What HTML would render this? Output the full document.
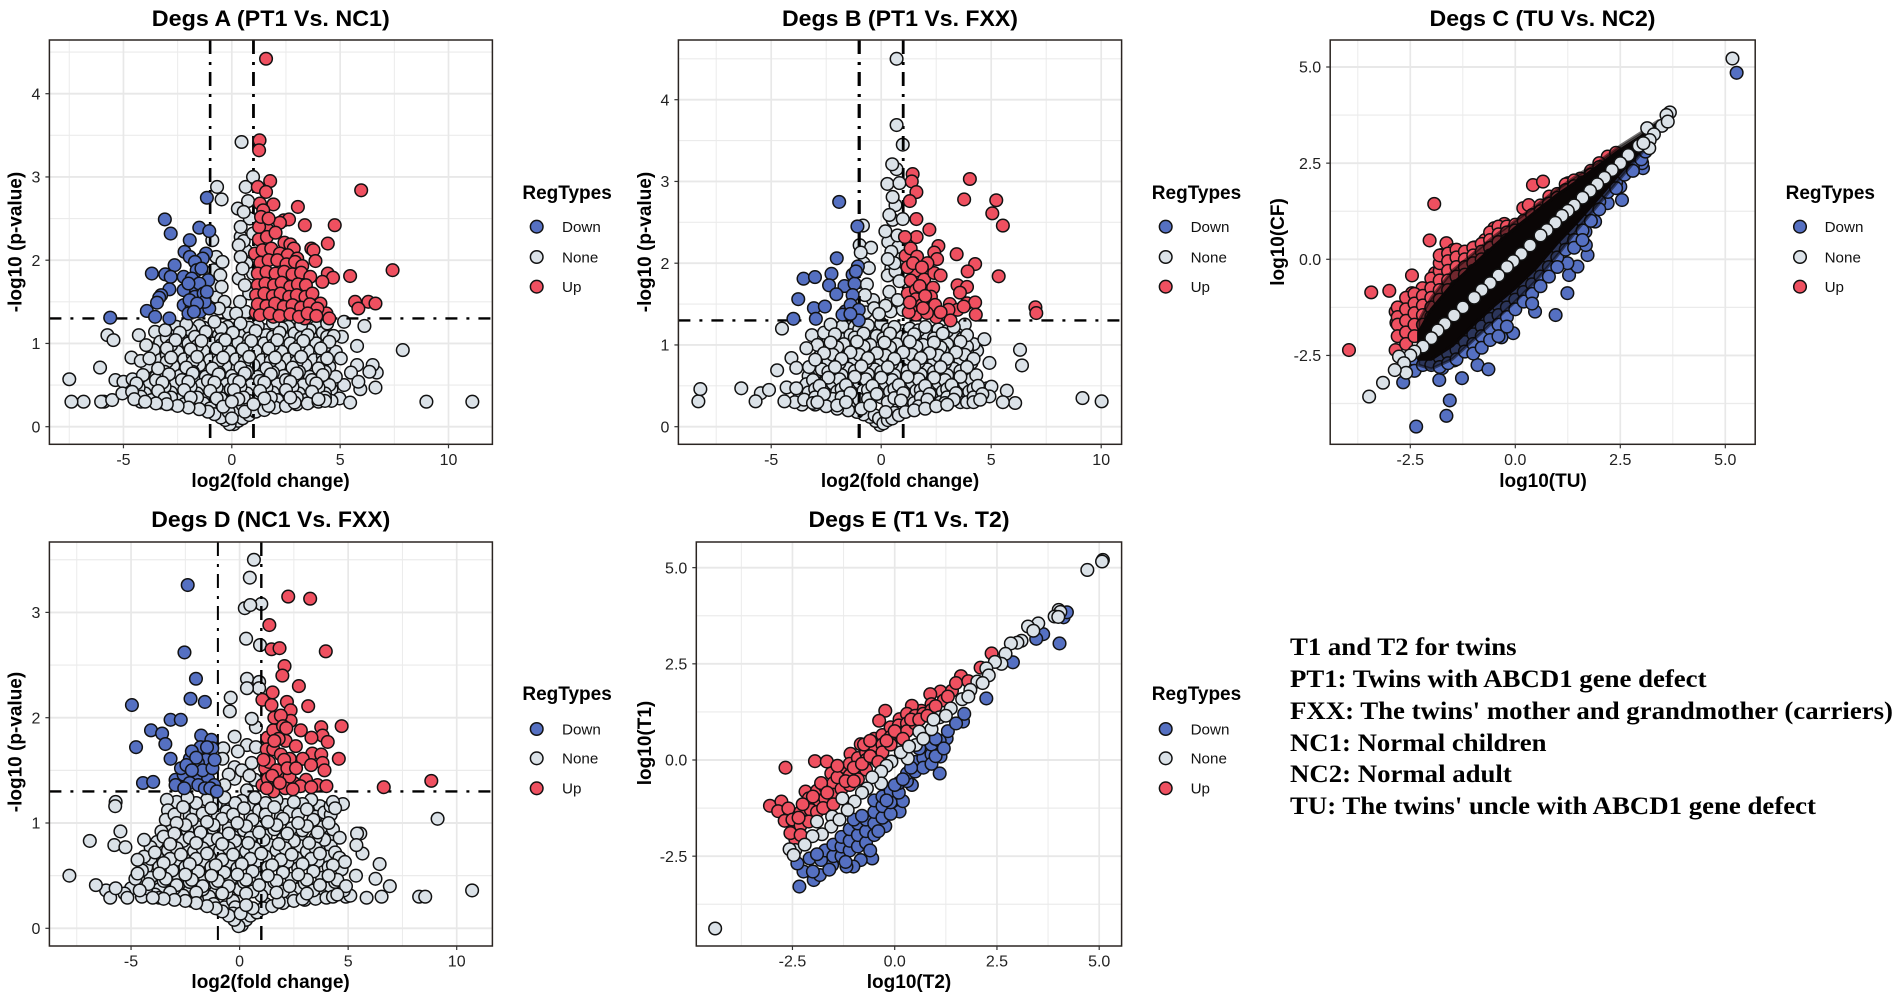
<!DOCTYPE html>
<html lang="en">
<head>
<meta charset="utf-8">
<title>Degs volcano and scatter panels</title>
<style>
html,body{margin:0;padding:0;background:#fff;width:1902px;height:1002px;overflow:hidden}
svg{display:block;filter:blur(0.35px)}
text{font-family:"Liberation Sans",sans-serif}
.ttl{font-size:22.5px;font-weight:bold;fill:#000;text-anchor:middle}
.axl{font-size:19px;font-weight:bold;fill:#000;text-anchor:middle}
.lgt{font-size:19px;font-weight:bold;fill:#000}
.lgl{font-size:15.2px;fill:#111}
.note{font-family:"Liberation Serif",serif;font-size:25px;font-weight:bold;fill:#000}
</style>
</head>
<body>
<svg id="chart" xmlns="http://www.w3.org/2000/svg" width="1902" height="1002" viewBox="0 0 1902 1002">
<rect x="0" y="0" width="1902" height="1002" fill="#fff"/>
<g id="panels"></g>
<text class="ttl" x="270.8" y="26" textLength="238" lengthAdjust="spacingAndGlyphs">Degs A (PT1 Vs. NC1)</text>
<text class="ttl" x="900" y="26" textLength="236" lengthAdjust="spacingAndGlyphs">Degs B (PT1 Vs. FXX)</text>
<text class="ttl" x="1542.5" y="26" textLength="226" lengthAdjust="spacingAndGlyphs">Degs C (TU Vs. NC2)</text>
<text class="ttl" x="270.8" y="527" textLength="239" lengthAdjust="spacingAndGlyphs">Degs D (NC1 Vs. FXX)</text>
<text class="ttl" x="909" y="527" textLength="201" lengthAdjust="spacingAndGlyphs">Degs E (T1 Vs. T2)</text>
<text class="axl" x="270.6" y="487">log2(fold change)</text>
<text class="axl" x="900" y="487">log2(fold change)</text>
<text class="axl" x="1543" y="487">log10(TU)</text>
<text class="axl" x="270.6" y="988">log2(fold change)</text>
<text class="axl" x="909" y="988">log10(T2)</text>
<text class="axl" transform="translate(21.5,242) rotate(-90)">-log10 (p-value)</text>
<text class="axl" transform="translate(651,242) rotate(-90)">-log10 (p-value)</text>
<text class="axl" transform="translate(1284,242) rotate(-90)">log10(CF)</text>
<text class="axl" transform="translate(21.5,742) rotate(-90)">-log10 (p-value)</text>
<text class="axl" transform="translate(651,743) rotate(-90)">log10(T1)</text>
<g>
<text class="note" x="1290" y="655" textLength="226.6" lengthAdjust="spacingAndGlyphs">T1 and T2 for twins</text>
<text class="note" x="1290" y="687" textLength="416.5" lengthAdjust="spacingAndGlyphs">PT1: Twins with ABCD1 gene defect</text>
<text class="note" x="1290" y="719" textLength="603" lengthAdjust="spacingAndGlyphs">FXX: The twins' mother and grandmother (carriers)</text>
<text class="note" x="1290" y="751" textLength="256.5" lengthAdjust="spacingAndGlyphs">NC1: Normal children</text>
<text class="note" x="1290" y="782" textLength="221.8" lengthAdjust="spacingAndGlyphs">NC2: Normal adult</text>
<text class="note" x="1290" y="814" textLength="526" lengthAdjust="spacingAndGlyphs">TU: The twins' uncle with ABCD1 gene defect</text>
</g>
</svg>
<script>
const legendLabels = ['Down','None','Up'];
const volcanoXTicks = [-5,0,5,10];
const volcanoXTickLabels = ['-5','0','5','10'];
const volcanoXMinor = [-7.5,-2.5,2.5,7.5];
const abYTicks = [0,1,2,3,4];
const abYTickLabels = ['0','1','2','3','4'];
const abYMinor = [0.5,1.5,2.5,3.5,4.5];
const dYTicks = [0,1,2,3];
const dYTickLabels = ['0','1','2','3'];
const dYMinor = [0.5,1.5,2.5,3.5];
const logTicks = [-2.5,0,2.5,5];
const logTickLabels = ['-2.5','0.0','2.5','5.0'];
const logMinor = [-3.75,-1.25,1.25,3.75];
const pThreshold = 1.3;
const fcThresholds = [-1,1];

/* series values: flat x,y pairs */
const aDown = [-3.09,2.49,-2.82,2.32,-1.94,2.24,-1.5,2.39,-1.04,2.35,-1.15,2.75,-2.18,2.1,-1.94,2.04,-2.64,1.94,-3.69,1.84,-3.07,1.83,-2.82,1.8,-2.88,1.65,-1.19,2.08,-1.34,2.02,-1.7,1.98,-1.62,1.88,-1.09,1.76,-2.22,1.8,-1.85,1.78,-2.22,1.64,-1.66,1.66,-1.7,1.56,-3.26,1.58,-3.35,1.55,-3.45,1.49,-3.92,1.39,-3.54,1.32,-2.22,1.46,-1.85,1.44,-1.47,1.38,-1.04,1.42,-5.61,1.31,-2.88,1.3,-1.4,1.9,-1.5,1.72,-1.3,1.6,-2.0,1.72,-1.95,1.52,-1.25,1.5,-1.6,1.48,-2.0,1.36,-1.15,1.62,-1.75,1.38];
const aUp = [1.58,4.42,1.28,3.44,1.26,3.32,1.77,2.95,1.2,2.88,1.58,2.82,5.97,2.84,1.92,2.67,1.3,2.68,1.45,2.6,3.05,2.64,2.4,2.48,2.64,2.49,2.22,2.45,3.37,2.42,4.75,2.42,1.64,2.37,1.26,2.4,2.43,2.21,2.7,2.19,4.43,2.2,3.67,2.14,3.77,2.12,2.86,2.14,1.07,2.08,3.86,1.99,7.42,1.88,5.46,1.81,4.43,1.84,4.67,1.79,4.18,1.74,5.69,1.5,6.3,1.5,6.63,1.48,5.84,1.42,4.09,1.48,4.37,1.36,4.5,1.3,3.37,1.3,1.92,1.32,1.11,1.37,2.49,1.42,1.35,2.52,1.7,2.5,1.25,2.25,1.62,2.28,2.02,2.33,1.42,2.12,1.82,2.14,2.22,2.08,2.58,2.06,3.02,2.02,1.32,1.97,1.7,2.0,2.1,2.0,2.52,1.95,2.92,1.98,3.25,1.93,1.2,1.84,1.6,1.86,2.02,1.84,2.42,1.86,2.8,1.83,3.2,1.85,3.62,1.8,1.2,1.7,1.55,1.72,1.95,1.7,2.3,1.73,2.7,1.68,3.05,1.71,3.42,1.7,1.12,1.58,1.5,1.6,1.9,1.57,2.25,1.6,2.65,1.56,3,1.58,3.4,1.56,3.72,1.6,1.2,1.47,1.6,1.45,2.0,1.48,2.4,1.44,2.8,1.46,3.2,1.43,3.6,1.47,3.95,1.42,1.3,1.34,1.75,1.36,2.2,1.33,2.7,1.35,3.1,1.32,3.5,1.36,3.9,1.33];
const aNone = [0.45,3.42,0.98,3.0,0.64,2.88,-0.68,2.88,-0.47,2.73,0.75,2.71,0.28,2.62,0.55,2.58,0.83,2.5,0.41,2.4,-0.9,2.24,0.55,2.23,0.41,2.28,0.32,2.18,0.64,2.12,0.98,2.32,-0.72,2.04,-0.43,1.98,0.68,1.96,0.41,2.04,-0.83,1.88,-0.53,1.82,0.32,1.78,0.6,1.7,0.98,1.84,-0.47,1.68,-0.72,1.56,0.38,1.5,-0.34,1.5,-0.15,1.36,0.8,1.6,0.5,1.9,-0.8,1.7,-0.6,1.42,0.65,1.38,0.2,1.36,
-5.74,1.1,-5.46,1.04,-4.29,1.1,-3.95,0.98,-3.54,1.14,-3.07,1.16,-2.56,1.2,-6.08,0.71,-4.63,0.83,-4.2,0.79,-7.5,0.57,-7.4,0.3,-6.84,0.3,-6.03,0.3,-5.9,0.3,-5.52,0.32,-5.37,0.56,-5.05,0.4,-5.0,0.54,-4.58,0.57,8.98,0.3,11.1,0.3,7.89,0.92,6.12,1.21,5.18,1.26,5.78,0.97,5.08,1.08,5.03,0.82,5.78,0.74,6.5,0.74,6.69,0.65,6.35,0.66,5.5,0.65,5.84,0.54,5.93,0.45,6.63,0.47,5.18,0.5,5.46,0.29,4.97,0.34,
-2.1,1.23,-1.5,1.21,-0.8,1.26,-0.2,1.2,0.4,1.24,1.2,1.21,1.9,1.25,2.6,1.2,3.2,1.22,3.9,1.2,4.4,1.24,-2.9,1.1,-2.4,1.13,-1.8,1.11,-1.2,1.14,-0.6,1.1,0.05,1.13,0.6,1.11,1.1,1.15,1.6,1.1,2.2,1.13,2.9,1.12,3.5,1.1,4.2,1.13,4.7,1.09,-3.3,1.02,-2.6,1.04,-2,1,-1.4,1.03,-0.9,1,-0.3,1.04,0.3,1.01,0.9,1.03,1.5,1,2.1,1.04,2.7,1,3.3,1.03,3.9,1,4.5,1.02,-3.6,0.92,-3,0.94,-2.5,0.9,-1.9,0.93,-1.3,0.91,-0.7,0.94,-0.1,0.9,0.5,0.93,1.1,0.91,1.7,0.94,2.3,0.9,2.9,0.93,3.5,0.91,4.1,0.94,4.8,0.9,-3.8,0.82,-3.3,0.8,-2.8,0.83,-2.2,0.81,-1.6,0.84,-1,0.8,-0.4,0.83,0.2,0.81,0.8,0.84,1.4,0.8,2,0.83,2.6,0.81,3.2,0.84,3.8,0.8,4.4,0.82,-3.9,0.72,-3.4,0.7,-2.7,0.73,-2.1,0.71,-1.5,0.74,-0.9,0.7,-0.3,0.73,0.4,0.71,1,0.74,1.6,0.7,2.2,0.73,2.8,0.71,3.4,0.74,4,0.7,4.5,0.72,-4.1,0.62,-3.5,0.6,-2.9,0.63,-2.4,0.61,-1.8,0.64,-1.2,0.6,-0.6,0.63,0,0.61,0.6,0.64,1.2,0.6,1.8,0.63,2.4,0.61,3,0.64,3.6,0.6,4.2,0.62,4.8,0.6,-4.4,0.52,-3.8,0.5,-3.2,0.53,-2.6,0.51,-2,0.54,-1.4,0.5,-0.8,0.53,-0.25,0.51,0.35,0.54,0.9,0.5,1.5,0.53,2.1,0.51,2.7,0.54,3.3,0.5,3.9,0.52,4.5,0.5,-4.6,0.42,-4,0.4,-3.4,0.43,-2.8,0.41,-2.2,0.44,-1.6,0.4,-1,0.43,-0.45,0.41,0.1,0.44,0.7,0.4,1.3,0.43,1.9,0.41,2.5,0.44,3.1,0.4,3.7,0.42,4.3,0.4,-4.5,0.33,-3.7,0.32,-3.1,0.34,-2.5,0.32,-1.9,0.35,-1.3,0.32,-0.7,0.34,-0.2,0.3,0.3,0.33,0.8,0.31,1.5,0.34,2.1,0.32,2.7,0.35,3.4,0.32,4,0.33,4.6,0.31,
-0.1,0.03,0.1,0.03,-0.3,0.08,0.3,0.07,-0.5,0.11,0.5,0.1,-0.8,0.15,0.8,0.14,-1.1,0.18,1.1,0.18,-1.5,0.21,1.5,0.2,-2,0.23,2,0.23,-2.5,0.25,2.5,0.25,-3,0.27,3,0.27,-3.5,0.28,3.5,0.28,-4,0.3,4,0.3,-0.15,0.18,0.2,0.2,-0.4,0.24,0.5,0.26,0,0.1,-0.85,0.26,1,0.27,-1.3,0.28,0,0.3,-0.05,0.45];
const aNoneDense = [-2.5,1.17,-1.9,1.16,-1.3,1.19,-0.5,1.18,0.1,1.17,0.8,1.19,1.5,1.16,2.3,1.18,3,1.17,3.6,1.16,4.3,1.15,-3,1.07,-2.3,1.06,-1.7,1.08,-1.1,1.06,-0.5,1.05,0.2,1.08,0.8,1.06,1.3,1.05,1.9,1.08,2.5,1.06,3.2,1.07,3.8,1.05,4.4,1.08,-3.4,0.97,-2.8,0.98,-2.2,0.96,-1.6,0.97,-1.1,0.95,-0.5,0.98,0.1,0.96,0.7,0.97,1.3,0.95,1.9,0.98,2.5,0.96,3.1,0.97,3.7,0.95,4.3,0.97,-3.6,0.87,-3,0.86,-2.4,0.88,-1.8,0.86,-1.2,0.88,-0.6,0.85,0,0.87,0.6,0.86,1.2,0.88,1.8,0.85,2.4,0.87,3,0.86,3.6,0.88,4.2,0.85,-3.6,0.77,-3,0.78,-2.4,0.76,-1.8,0.78,-1.2,0.76,-0.6,0.79,0,0.76,0.6,0.78,1.2,0.76,1.8,0.79,2.4,0.76,3,0.78,3.6,0.76,4.2,0.78,-3.7,0.67,-3.1,0.66,-2.4,0.68,-1.8,0.66,-1.2,0.68,-0.6,0.65,0.1,0.67,0.7,0.66,1.3,0.68,1.9,0.65,2.5,0.67,3.1,0.66,3.7,0.68,4.3,0.66,-4.1,0.57,-3.5,0.56,-2.9,0.58,-2.3,0.56,-1.7,0.58,-1.1,0.55,-0.5,0.57,0.1,0.56,0.7,0.58,1.3,0.55,1.9,0.57,2.5,0.56,3.1,0.58,3.7,0.56,4.3,0.57,-4.3,0.47,-3.7,0.46,-3.1,0.48,-2.5,0.46,-1.9,0.48,-1.3,0.45,-0.7,0.47,-0.15,0.46,0.4,0.48,1,0.45,1.6,0.47,2.2,0.46,2.8,0.48,3.4,0.46,4,0.47,4.6,0.45,-4.2,0.36,-3.4,0.37,-2.8,0.35,-2.2,0.38,-1.6,0.35,-1,0.37,-0.5,0.34,0.05,0.37,0.55,0.35,1.2,0.38,1.8,0.35,2.4,0.37,3,0.35,3.7,0.37,4.3,0.35,-4.2,0.3,-3.3,0.29,-2.8,0.28,-2.2,0.27,-1.6,0.25,-1,0.22,-0.6,0.18,-0.2,0.12,0.2,0.12,0.6,0.18,1,0.22,1.7,0.25,2.3,0.27,2.9,0.29,3.6,0.3,4.3,0.31];

const bDown = [-1.91,2.75,-1.08,2.45,-2.02,2.06,-1.06,1.96,-3.53,1.81,-3.01,1.83,-2.26,1.87,-2.37,1.73,-1.67,1.72,-2.04,1.62,-1.3,1.86,-1.21,1.75,-3.77,1.56,-3.06,1.45,-2.56,1.47,-2.97,1.32,-3.99,1.32,-1.63,1.41,-1.3,1.61,-1.39,1.49,-1.02,1.43,-1.02,1.3,-1.76,1.37,-1.15,1.9,-1.4,1.38];
const bUp = [1.43,3.09,1.39,3.0,1.6,2.87,1.3,2.76,4.03,3.03,3.77,2.78,5.23,2.77,5.05,2.61,5.53,2.46,1.6,2.54,2.19,2.41,1.61,2.32,1.08,2.32,2.6,2.21,2.41,2.13,3.43,2.11,2.54,2.05,1.11,2.09,1.34,2.18,4.27,1.99,3.93,1.9,5.34,1.84,1.63,2.08,1.58,1.91,2.23,1.9,1.95,1.8,2.41,1.88,3.47,1.73,3.9,1.71,3.58,1.64,2.36,1.7,1.34,1.79,1.21,1.63,1.58,1.67,2.26,1.59,1.58,1.56,2.45,1.49,3.12,1.5,3.9,1.51,4.27,1.52,3.47,1.43,4.3,1.37,3.06,1.43,2.5,1.34,1.58,1.37,2.08,1.39,3.15,1.3,7.01,1.46,7.05,1.39,1.39,1.47,1.86,1.49,1.2,1.95,1.45,2.0,1.75,1.72,2.0,1.6,1.9,1.45,1.25,1.4,2.7,1.4,1.3,1.52,2.1,2.0,2.7,1.85,1.85,1.95,3.75,1.47];
const bNone = [0.7,4.5,0.7,3.69,0.98,3.45,0.5,3.21,0.7,3.15,0.83,2.98,0.28,2.97,0.52,2.81,0.65,2.71,0.37,2.59,0.52,2.53,0.98,2.54,-0.83,2.46,0.19,2.39,0.32,2.26,0.74,2.34,-0.98,2.22,-0.93,2.13,-0.46,2.19,0.46,2.14,-0.8,2,-0.56,1.94,0.46,1.94,0.83,1.78,-0.65,1.74,0.37,1.65,-0.37,1.55,-0.32,1.45,0.43,1.41,0.98,1.43,-0.74,1.61,0.6,2.0,0.3,1.85,0.75,1.55,0.45,1.55,0.2,1.48,0.78,2.2,0.3,2.05,-0.7,1.4,-0.1,1.38,0.65,1.9,
-4.51,1.2,-3.15,1.12,-2.6,1.15,-1.76,1.23,-3.4,0.96,-4.08,0.84,-4.73,0.69,-3.86,0.72,-3.28,0.73,-6.36,0.47,-8.22,0.46,-8.31,0.31,-5.71,0.31,-5.47,0.41,-5.1,0.45,-4.3,0.48,-4.4,0.31,-3.93,0.3,-3.86,0.47,9.15,0.35,10.02,0.31,6.31,0.94,6.4,0.75,4.92,0.78,4.69,1.07,4.36,0.93,4.32,0.63,6.09,0.29,5.53,0.3,5.71,0.44,5.01,0.49,4.82,0.47,4.92,0.37,4.03,0.31,
-2.3,1.25,-1.2,1.22,-0.6,1.24,0,1.26,0.6,1.22,1.3,1.2,2,1.22,2.6,1.19,3.3,1.22,3.8,1.25,-2.1,1.13,-1.4,1.12,-0.8,1.14,-0.2,1.11,0.4,1.14,0.95,1.1,1.5,1.13,2.1,1.11,2.8,1.14,3.4,1.1,3.9,1.12,-2.9,1,-2.3,1.03,-1.7,1.01,-1.1,1.04,-0.5,1,0.15,1.03,0.7,1.01,1.3,1.04,1.9,1,2.4,1.03,3,1.01,3.6,1.04,4.2,1.01,-2.6,0.9,-2,0.93,-1.4,0.91,-0.8,0.94,-0.2,0.9,0.4,0.93,1,0.91,1.6,0.94,2.2,0.9,2.8,0.93,3.4,0.91,3.9,0.93,-3,0.82,-2.4,0.8,-1.8,0.83,-1.2,0.81,-0.6,0.84,0,0.8,0.6,0.83,1.2,0.81,1.8,0.84,2.4,0.8,3,0.83,3.6,0.81,4.2,0.83,-2.7,0.7,-2.1,0.73,-1.5,0.71,-0.9,0.74,-0.3,0.7,0.3,0.73,0.9,0.71,1.5,0.74,2.1,0.7,2.7,0.73,3.3,0.71,3.9,0.73,-3.3,0.62,-2.4,0.6,-1.8,0.63,-1.2,0.61,-0.6,0.64,0,0.6,0.6,0.63,1.2,0.61,1.8,0.64,2.4,0.6,3,0.63,3.6,0.61,-3.4,0.52,-2.8,0.5,-2.2,0.53,-1.6,0.51,-1,0.54,-0.4,0.5,0.2,0.53,0.8,0.51,1.4,0.54,2,0.5,2.6,0.53,3.2,0.51,3.8,0.53,4.4,0.5,-3.3,0.42,-2.6,0.4,-2,0.43,-1.4,0.41,-0.8,0.44,-0.2,0.4,0.4,0.43,1,0.41,1.6,0.44,2.2,0.4,2.8,0.43,3.4,0.41,4,0.43,4.6,0.4,-3.5,0.33,-2.9,0.3,-2.2,0.34,-1.6,0.3,-1,0.33,-0.5,0.26,0.3,0.3,0.9,0.32,1.5,0.29,2.1,0.33,2.7,0.3,3.3,0.33,3.9,0.3,4.5,0.33,
-0.05,0.02,0.1,0.04,-0.25,0.07,0.3,0.08,-0.5,0.12,0.5,0.1,-0.8,0.15,0.8,0.14,-1.1,0.18,1.1,0.18,-1.5,0.2,1.5,0.2,-2,0.22,2,0.22,-2.5,0.25,2.5,0.25,-3,0.27,3,0.27,-0.3,0.14,0.2,0.18];
const bNoneDense = [-1.7,1.17,-1,1.19,-0.3,1.18,0.3,1.19,1,1.17,1.7,1.18,2.4,1.16,3,1.17,3.6,1.18,-2.4,1.08,-1.8,1.07,-1.2,1.09,-0.5,1.07,0.1,1.08,0.7,1.06,1.2,1.08,1.8,1.06,2.4,1.08,3.1,1.06,3.7,1.08,-2.6,0.96,-2,0.97,-1.4,0.95,-0.8,0.98,-0.2,0.96,0.4,0.97,1,0.95,1.6,0.98,2.2,0.96,2.7,0.97,3.3,0.95,3.9,0.98,-2.8,0.86,-2.2,0.88,-1.6,0.86,-1,0.88,-0.4,0.85,0.2,0.87,0.8,0.86,1.4,0.88,2,0.85,2.6,0.87,3.2,0.86,3.8,0.88,-2.5,0.76,-1.9,0.78,-1.3,0.76,-0.7,0.79,-0.1,0.76,0.5,0.78,1.1,0.76,1.7,0.79,2.3,0.76,2.9,0.78,3.5,0.76,4.1,0.78,-3,0.66,-2.4,0.67,-1.8,0.65,-1.2,0.68,-0.6,0.66,0,0.67,0.6,0.65,1.2,0.68,1.8,0.66,2.4,0.67,3,0.65,3.6,0.68,4,0.66,-3.1,0.57,-2.5,0.56,-1.9,0.58,-1.3,0.56,-0.7,0.58,-0.1,0.55,0.5,0.57,1.1,0.56,1.7,0.58,2.3,0.55,2.9,0.57,3.5,0.56,4.1,0.58,-3.6,0.47,-3,0.46,-2.4,0.48,-1.8,0.46,-1.2,0.48,-0.6,0.45,0,0.47,0.6,0.46,1.2,0.48,1.8,0.45,2.4,0.47,3,0.46,3.6,0.48,4.2,0.46,-3.7,0.38,-3,0.36,-2.4,0.38,-1.8,0.36,-1.2,0.38,-0.6,0.34,0,0.36,0.6,0.35,1.2,0.38,1.8,0.36,2.4,0.38,3,0.36,3.6,0.38,4.2,0.36,-3.6,0.27,-3.1,0.29,-2.6,0.28,-2,0.26,-1.4,0.25,-0.9,0.22,-0.5,0.17,-0.1,0.1,0.2,0.11,0.6,0.17,1,0.22,1.7,0.25,2.3,0.27,2.9,0.29,3.6,0.3,4.2,0.3];

const cUp = [-1.93,1.44,-2.04,0.49,0.42,1.93,0.66,2.02,0.19,1.33,0.32,1.41,-2.46,-0.42,-3.43,-0.86,-3,-0.82,-3.96,-2.36,-2.46,-0.88,-1.64,0.42,-1.76,0.11,-1.47,0.24,-1.27,0.07,-0.97,0.31,-0.72,0.5,-0.5,0.81,-0.26,0.92,-0.1,0.76,-0.38,0.59,-2.85,-1.36,-2.83,-1.65,-2.63,-1.66,-2.6,-1.23,-2.85,-2.36,-1.91,-0.36,-2.21,-0.75,0.81,1.63,1.26,1.98,1.55,2.1,2.2,2.67,2.4,2.77,
-2.8,-1.25,-2.8,-1.5,-2.8,-1.7,-2.8,-2.0,-2.6,-1.0,-2.6,-1.3,-2.6,-1.6,-2.6,-1.9,-2.6,-2.2,-2.4,-0.9,-2.4,-1.15,-2.4,-1.4,-2.4,-1.7,-2.4,-2.0,-2.2,-0.95,-2.2,-1.2,-2.2,-1.45,-2.2,-1.7,-2,-0.5,-2,-0.75,-2,-1,-2,-1.25,-2,-1.5,-1.8,-0.3,-1.8,-0.1,-1.8,0.1,-1.8,-0.55,-1.8,-0.8,-1.8,-1.05,-1.8,-1.3,-1.6,0.15,-1.6,-0.05,-1.6,-0.3,-1.6,-0.55,-1.6,-0.8,-1.6,-1.05,-1.4,0.25,-1.4,0.05,-1.4,-0.2,-1.4,-0.45,-1.4,-0.7,-1.4,-0.9,-1.2,0.2,-1.2,0,-1.2,-0.2,-1.2,-0.4,-1.2,-0.6,-1,0.3,-1,0.1,-1,-0.1,-1,-0.3,-0.8,0.4,-0.8,0.2,-0.8,0,-0.8,-0.2,-0.6,0.7,-0.6,0.5,-0.6,0.3,-0.6,0.1,-0.4,0.85,-0.4,0.65,-0.4,0.45,-0.4,0.25,-0.2,0.85,-0.2,0.7,-0.2,0.5,0,0.9,0,0.75,0.2,1.0,0.4,1.15,0.6,1.4,0.6,1.25,0.8,1.45,1,1.7,1,1.6,1.2,1.95,1.2,1.8,1.4,2.05,1.4,1.9,1.6,2.0,1.8,2.3,1.8,2.2,2,2.5,2,2.4];
const cDown = [5.27,4.85,-2.36,-4.35,-1.64,-4.07,-1.56,-3.67,-1.27,-3.09,-1.81,-3.14,-2.67,-3.2,-2.33,-2.79,-1.74,-2.83,-1.45,-2.63,-0.9,-2.75,-0.64,-2.86,-0.05,-1.92,-0.33,-2.03,0.96,-1.45,0.47,-1.36,1.24,-0.88,1.28,-0.41,1.48,-0.19,1.24,-0.1,1.72,0.11,1.68,0.37,1.67,0.72,1.9,0.98,2.54,1.54,2.5,1.89,3.04,2.37,3.02,2.5,2.2,1.46,
-2.6,-2.8,-2.4,-2.6,-2.4,-2.9,-2.2,-2.5,-2.2,-2.75,-2,-2.5,-2,-2.75,-1.8,-2.3,-1.8,-2.55,-1.8,-2.8,-1.6,-2.2,-1.6,-2.45,-1.6,-2.7,-1.4,-2.1,-1.4,-2.35,-1.4,-2.6,-1.2,-1.9,-1.2,-2.15,-1.2,-2.4,-1,-1.7,-1,-1.95,-1,-2.2,-1,-2.45,-0.8,-1.5,-0.8,-1.75,-0.8,-2,-0.8,-2.3,-0.6,-1.3,-0.6,-1.55,-0.6,-1.8,-0.6,-2.1,-0.4,-1.2,-0.4,-1.45,-0.4,-1.7,-0.4,-2.0,-0.2,-1,-0.2,-1.25,-0.2,-1.5,-0.2,-1.75,0,-0.8,0,-1.05,0,-1.3,0.2,-0.6,0.2,-0.85,0.2,-1.1,0.4,-0.4,0.4,-0.65,0.4,-0.9,0.4,-1.15,0.6,-0.2,0.6,-0.45,0.6,-0.7,0.8,0.05,0.8,-0.2,0.8,-0.45,1,0.3,1,0.05,1,-0.2,1.2,0.5,1.2,0.25,1.4,0.75,1.4,0.5,1.4,0.3,1.6,1,1.6,0.75,1.6,0.5,1.8,1.25,1.8,1,2,1.5,2,1.3,2.2,1.75,2.4,2,2.4,1.85,2.6,2.2,2.8,2.4,2.8,2.3,3,2.6,3.1,2.8];
const cNone = [5.17,5.22,3.68,3.82,3.6,3.75,3.49,3.47,3.63,3.58,3.14,3.41,3.3,3.25,3.2,3.1,2.94,2.95,3.19,2.89,3.05,3.02,2.69,2.71,2.5,2.5,2.3,2.32,2.12,2.12,1.95,1.95,1.78,1.78,1.6,1.6,1.4,1.4,1.25,1.26,1.11,1.13,0.95,0.95,0.75,0.76,0.6,0.62,0.35,0.36,0.14,0.14,-0.05,-0.05,-0.2,-0.2,-0.4,-0.42,-0.6,-0.62,-0.8,-0.8,-0.98,-1.0,-1.25,-1.25,-1.46,-1.46,-1.68,-1.68,-1.85,-1.85,-2,-2.05,-2.2,-2.27,-2.4,-2.4,-2.5,-2.5,-2.77,-2.53,-2.65,-2.7,-2.6,-2.95,-2.87,-2.88,-3.15,-3.21,-3.48,-3.57];
const cBandX = [-2.3,-2,-1.5,-1,-0.5,0,0.5,1,1.5,2,2.5,3,3.4];
const cBandUpper = [-1.9,-1.3,-0.65,-0.15,0.35,0.82,1.25,1.68,2.05,2.45,2.85,3.2,3.55];
const cBandLower = [-2.6,-2.6,-2.25,-1.7,-1.2,-0.75,-0.22,0.42,1.0,1.62,2.25,2.85,3.3];
const cHazeUpper = [-1.6,-1.0,-0.3,0.15,0.6,1.0,1.4,1.82,2.2,2.55,2.95,3.3,3.6];
const cHazeLower = [-2.75,-2.85,-2.6,-2.1,-1.6,-1.1,-0.55,0.1,0.8,1.45,2.1,2.75,3.25];

const dDown = [-2.39,3.26,-2.54,2.62,-2.01,2.37,-4.96,2.12,-2.26,2.18,-1.6,2.15,-3.18,1.98,-2.71,1.98,-4.08,1.88,-3.57,1.85,-3.42,1.75,-4.77,1.72,-3.18,1.61,-4.45,1.38,-3.98,1.39,-1.77,1.83,-1.3,1.79,-1.26,1.71,-1.54,1.6,-2.29,1.61,-1.92,1.57,-2.95,1.41,-2.58,1.46,-2.01,1.44,-1.45,1.42,-1.17,1.36,-2.95,1.36,-1.8,1.72,-1.5,1.72,-2.2,1.68,-2.0,1.62,-1.7,1.5,-1.25,1.52,-1.15,1.6,-2.3,1.38,-1.9,1.36,-1.6,1.33,-2.7,1.52,-2.45,1.55,-2.2,1.5,-1.35,1.33,-1.05,1.3,-2.55,1.33];
const dUp = [2.24,3.15,3.25,3.13,1.37,2.88,1.47,2.65,1.84,2.66,3.97,2.63,2.07,2.49,1.97,2.4,2.73,2.3,1.52,2.24,3.16,2.11,1.05,2.17,2.18,2.15,1.47,2.12,2.35,2.07,4.7,1.92,3.76,1.91,2.82,1.88,2.35,1.97,3.82,1.83,4.06,1.77,3.31,1.81,1.28,1.81,2.12,1.78,2.59,1.73,4.57,1.61,3.35,1.66,2.91,1.61,2.31,1.61,3.76,1.65,3.82,1.57,3.91,1.5,3.29,1.55,3.06,1.41,2.03,1.47,1.18,1.52,3.59,1.36,4,1.35,2.5,1.38,1.6,1.36,1.56,1.3,6.64,1.34,8.83,1.4,1.6,2.0,1.9,2.02,1.55,1.88,1.8,1.8,1.25,1.7,1.55,1.7,1.9,1.65,2.05,1.6,1.35,1.58,1.7,1.5,2.3,1.44,1.05,1.36,1.3,1.42,2.8,1.35,2.1,1.33,2.0,1.92,1.1,1.6,1.5,1.45,2.2,1.52,2.6,1.52,2.45,1.32,1.85,1.38,1.25,1.33,3.3,1.34,2.15,1.9,1.6,1.78];
const dNone = [0.66,3.5,0.47,3.33,0.24,3.04,0.49,3.07,1,3.08,0.3,2.75,0.94,2.69,0.34,2.37,0.9,2.34,0.34,2.28,0.9,2.28,-0.41,2.19,-0.45,2.06,0.56,1.99,0.75,1.91,-0.23,1.82,0.34,1.74,0.75,1.72,-0.75,1.71,-0.08,1.68,-0.79,1.61,0.56,1.57,-0.23,1.53,0.71,1.41,-0.23,1.42,-0.7,1.36,0.34,1.31,0.1,1.5,-0.5,1.46,0.45,1.45,
-5.71,1.2,-5.73,1.16,-5.49,0.92,-6.9,0.83,-5.77,0.79,-5.26,0.77,-7.84,0.5,-6.62,0.41,-6.15,0.36,-5.71,0.38,-5.96,0.29,-5.17,0.29,9.12,1.04,10.71,0.36,8.27,0.3,8.55,0.3,6.92,0.4,6.54,0.3,6.26,0.47,6.45,0.61,5.85,0.29,5.41,0.9,5.56,0.9,5.38,0.79,5.66,0.71,4.61,0.86,4.76,1.18,4.19,1.16,5.36,0.5,4.85,0.63,
-3.35,1.22,-2.4,1.24,-1.5,1.22,-0.7,1.24,0.1,1.21,0.7,1.24,1.7,1.22,2.5,1.2,3.3,1.22,4.3,1.2,-3.3,1.12,-2.6,1.15,-2,1.12,-1.3,1.14,-0.6,1.11,0.2,1.14,0.9,1.12,1.6,1.15,2.3,1.11,3.1,1.13,3.9,1.1,4.4,1.14,-3.4,1.03,-2.9,1,-2.2,1.03,-1.5,1.01,-0.8,1.04,-0.1,1,0.6,1.03,1.3,1.01,2,1.04,2.7,1,3.4,1.03,4.1,1,-3.6,0.92,-3,0.9,-2.4,0.93,-1.8,0.91,-1.2,0.94,-0.5,0.9,0.2,0.93,0.9,0.91,1.6,0.94,2.2,0.9,2.9,0.93,3.6,0.91,4.3,0.94,-4.4,0.84,-3.8,0.82,-3.2,0.8,-2.6,0.83,-2,0.81,-1.4,0.84,-0.8,0.8,-0.2,0.83,0.4,0.81,1.1,0.84,1.8,0.8,2.5,0.83,3.2,0.81,3.9,0.84,-3.9,0.72,-3.3,0.74,-2.7,0.7,-2.1,0.73,-1.5,0.71,-0.9,0.74,-0.3,0.7,0.3,0.73,1,0.71,1.7,0.74,2.4,0.7,3.1,0.73,3.7,0.71,4.4,0.72,-4.7,0.65,-4.1,0.66,-3.5,0.62,-2.9,0.65,-2.3,0.61,-1.7,0.64,-1.1,0.6,-0.5,0.63,0.1,0.61,0.8,0.64,1.5,0.6,2.2,0.63,2.9,0.61,3.6,0.64,4.3,0.6,-4.5,0.55,-3.7,0.52,-3.1,0.55,-2.5,0.51,-1.9,0.54,-1.3,0.5,-0.7,0.53,-0.1,0.51,0.6,0.54,1.3,0.5,2,0.53,2.7,0.51,3.4,0.54,4.1,0.5,-4.8,0.47,-4.2,0.42,-3.5,0.45,-2.9,0.41,-2.3,0.44,-1.7,0.4,-1.1,0.43,-0.5,0.4,0.2,0.44,0.9,0.41,1.6,0.44,2.3,0.4,3,0.43,3.7,0.41,4.4,0.44,4.9,0.4,-5.3,0.33,-4.6,0.36,-3.9,0.32,-3.2,0.34,-2.6,0.31,-2,0.34,-1.4,0.3,-0.8,0.33,-0.3,0.26,0.3,0.33,1,0.31,1.7,0.34,2.4,0.3,3.1,0.33,3.8,0.31,4.5,0.32,5.1,0.31,
-0.05,0.02,0.1,0.03,-0.25,0.08,0.3,0.08,-0.5,0.12,0.5,0.12,-0.8,0.16,0.8,0.15,-1.1,0.19,1.1,0.19,-1.5,0.21,1.5,0.21,-2,0.24,2,0.24,-2.5,0.26,2.5,0.26,-3,0.27,3,0.27,-3.5,0.28,3.5,0.28,-4,0.29,4,0.29,0.05,0.14,-0.2,0.2,0.3,0.22];
const dNoneDense = [-2.9,1.2,-2,1.19,-1.1,1.18,-0.2,1.19,0.4,1.17,1.2,1.19,2.1,1.17,2.9,1.18,3.7,1.16,-3,1.08,-2.3,1.07,-1.7,1.09,-1,1.07,-0.3,1.08,0.5,1.06,1.2,1.08,1.9,1.06,2.7,1.08,3.5,1.06,4.2,1.08,-3.1,0.97,-2.5,0.98,-1.9,0.96,-1.2,0.98,-0.5,0.95,0.3,0.97,1,0.96,1.7,0.98,2.4,0.95,3.1,0.97,3.8,0.96,-3.5,0.87,-2.9,0.88,-2.3,0.86,-1.7,0.88,-1,0.85,-0.3,0.87,0.5,0.86,1.2,0.88,2,0.85,2.8,0.87,3.5,0.86,4.2,0.88,-4.1,0.77,-3.5,0.78,-2.9,0.76,-2.3,0.78,-1.7,0.76,-1.1,0.79,-0.5,0.76,0.1,0.78,0.7,0.76,1.4,0.79,2.1,0.76,2.8,0.78,3.5,0.76,4.2,0.78,-4.4,0.68,-3.8,0.68,-3.2,0.66,-2.6,0.68,-2,0.66,-1.4,0.68,-0.8,0.65,-0.2,0.67,0.5,0.66,1.2,0.68,1.9,0.65,2.6,0.67,3.3,0.66,4,0.68,4.6,0.67,-4.3,0.58,-3.7,0.58,-3.1,0.56,-2.5,0.58,-1.9,0.56,-1.3,0.58,-0.7,0.55,-0.1,0.57,0.6,0.56,1.3,0.58,2,0.55,2.7,0.57,3.4,0.56,4.1,0.58,4.7,0.56,-4.7,0.52,-4.1,0.48,-3.4,0.47,-2.8,0.48,-2.2,0.46,-1.6,0.48,-1,0.45,-0.4,0.47,0.3,0.46,1,0.48,1.7,0.45,2.4,0.47,3.1,0.46,3.8,0.48,4.5,0.46,-5,0.38,-4.3,0.38,-3.7,0.37,-3,0.38,-2.3,0.36,-1.7,0.37,-1.1,0.35,-0.6,0.34,0,0.37,0.6,0.35,1.3,0.38,2,0.35,2.7,0.37,3.4,0.36,4.1,0.38,4.8,0.36,-4.5,0.3,-3.7,0.29,-3,0.28,-2.2,0.26,-1.7,0.24,-1.2,0.23,-0.7,0.2,-0.3,0.14,0.2,0.12,0.6,0.19,1.2,0.23,1.8,0.25,2.3,0.27,2.9,0.28,3.6,0.3,4.3,0.3,4.9,0.3];

const eUp = [-2.67,-0.2,-1.95,-0.03,-1.66,-0.04,-3.05,-1.19,-2.77,-1.08,-2.85,-1.33,-2.6,-1.26,-2.69,-1.58,-0.23,1.28,-0.38,1.02,-0.83,0.41,-1.08,0.16,1.62,2.18,2.37,2.77,1.12,1.78,0.87,1.71,0.65,1.28,0.42,1.41,0.12,1.06,-2.43,-1.82,-2.43,-2.06,-2.18,-0.82,
-2.5,-1.55,-2.55,-1.9,-2.3,-1.35,-2.3,-1.7,-2.3,-1.95,-2.1,-1.0,-2.05,-1.3,-2.1,-1.6,-1.9,-0.8,-1.85,-1.05,-1.9,-1.35,-1.7,-0.7,-1.7,-1.0,-1.75,-1.25,-1.55,-0.35,-1.5,-0.6,-1.5,-0.9,-1.5,-1.15,-1.3,-0.25,-1.3,-0.5,-1.3,-0.75,-1.1,-0.1,-1.1,-0.4,-1.1,-0.65,-0.9,0.05,-0.9,-0.25,-0.9,-0.5,-0.7,0.2,-0.7,0,-0.7,-0.25,-0.5,0.55,-0.5,0.3,-0.5,0.05,-0.3,0.65,-0.3,0.4,-0.3,0.2,-0.1,0.85,-0.1,0.6,-0.1,0.4,0.1,0.9,0.1,0.7,0.3,1.2,0.3,0.95,0.3,0.75,0.5,1.15,0.5,0.95,0.7,1.2,0.9,1.45,0.9,1.3,1.2,1.55,1.4,1.8,1.5,2.0,1.8,2.05,2.1,2.4,
-2.35,-1.5,-2.25,-1.15,-2.0,-0.95,-1.8,-0.6,-1.65,-0.85,-1.4,-0.45,-1.4,-0.15,-1.2,-0.55,-1.0,-0.2,-1.0,-0.55,-0.8,-0.1,-0.75,0.4,-0.6,0.1,-0.6,0.5,-0.4,-0.05,-0.2,0.5,0,0.75,0.2,0.55,0.4,1.05,0.6,1.05,0.8,1.15,1.0,1.4,1.3,1.65];
const eDown = [4.03,3.03,4.13,3.71,4.21,3.84,3.63,3.27,3.46,3.15,2.89,2.54,2.24,1.6,1.67,1,1.27,0.56,1.12,0.09,1.1,-0.35,0.42,-0.65,0.12,-1.34,0.2,-1.07,-0.23,-1.72,-0.55,-2.56,-0.83,-2.6,-1.01,-2.77,-1.18,-2.77,-1.53,-2.73,-2.33,-3.29,-1.98,-3.12,-1.83,-2.99,-2.23,-2.9,-2.38,-2.69,-2.08,-2.56,
-2,-2.9,-1.8,-2.6,-1.7,-2.35,-1.5,-2.5,-1.5,-2.2,-1.3,-2.5,-1.3,-2.25,-1.3,-2,-1.1,-2.35,-1.1,-2.1,-1.1,-1.8,-0.9,-2.25,-0.9,-1.95,-0.9,-1.65,-0.7,-2.15,-0.7,-1.85,-0.7,-1.55,-0.5,-1.95,-0.5,-1.65,-0.5,-1.35,-0.5,-1.05,-0.3,-1.5,-0.3,-1.2,-0.3,-0.95,-0.1,-1.4,-0.1,-1.1,-0.1,-0.8,0.1,-0.85,0.1,-0.6,0.3,-0.55,0.3,-0.35,0.5,-0.3,0.5,-0.05,0.7,0.05,0.7,-0.2,0.9,0.15,0.9,0.4,0.9,-0.1,1.1,0.5,1.3,0.75,1.5,0.95,1.7,1.2,
-1.6,-2.85,-1.9,-2.45,-1.2,-2.65,-1.0,-1.55,-0.8,-1.45,-0.6,-2.35,-0.4,-1.85,-0.2,-1.05,0,-0.65,0.2,-0.5,0.4,-0.2,0.6,0.3,1.0,0.1,1.0,0.55,1.2,0.3];
const eNone = [-4.39,-4.38,5.09,5.2,5.07,5.16,4.71,4.94,4.01,3.9,4.05,3.85,3.91,3.73,4,3.72,3.51,3.55,3.26,3.47,3.39,3.36,3.1,3.1,3.0,3.05,2.84,3.03,2.71,2.76,2.61,2.5,2.45,2.55,2.24,2.38,2.3,2.2,2.02,2.04,2.15,2.0,1.85,1.82,1.65,1.58,1.8,1.65,1.37,1.34,1.1,1.11,1.25,1.15,0.9,0.8,0.6,0.74,0.95,1.05,0.52,0.39,0.7,0.55,0.32,0.04,0.15,0.2,0.35,0.35,-0.08,-0.04,-0.2,-0.15,-0.33,-0.3,-0.33,-0.61,-0.55,-0.45,-0.68,-0.74,-0.8,-0.85,-0.98,-1.08,-1.28,-1,-1.15,-1.3,-1.53,-1.47,-1.55,-1.73,-1.35,-1.55,-1.9,-1.6,-1.78,-1.93,-2.01,-1.98,-2.43,-2.34,-2.57,-2.32,-2.47,-2.47,-2.2,-2.2];

const SVGNS = 'http://www.w3.org/2000/svg';
const COLORS = {down:'#5570c2', none:'#dbe2e8', up:'#ef5060'};
const MARK_R = 6.3;
const MARK_SW = 1.5;
const root = document.getElementById('panels');

function el(tag, attrs, parent){
  const n = document.createElementNS(SVGNS, tag);
  for (const k in attrs) n.setAttribute(k, attrs[k]);
  if (parent) parent.appendChild(n);
  return n;
}
function linear(origin, perUnit){ return v => origin + perUnit * v; }

function drawPoints(g, p, flat, fill, name, keep){
  for (let i = 0; i < flat.length; i += 2){
    if (keep && !keep(i / 2)) continue;
    const c = el('circle', {cx:p.sx(flat[i]).toFixed(2), cy:p.sy(flat[i+1]).toFixed(2), r:MARK_R, fill:fill, stroke:'#111', 'stroke-width':MARK_SW}, g);
    
    
  }
}

function drawFrame(p){
  const bg = el('rect', {x:p.L, y:p.T, width:p.R-p.L, height:p.B-p.T, fill:'#fff'}, p.g);
  
  
  p.xMinor.forEach(v => {
    const l = el('line', {x1:p.sx(v), x2:p.sx(v), y1:p.T, y2:p.B, stroke:'#ebebeb', 'stroke-width':1}, p.g);
    
    
  });
  p.yMinor.forEach(v => {
    const l = el('line', {y1:p.sy(v), y2:p.sy(v), x1:p.L, x2:p.R, stroke:'#ebebeb', 'stroke-width':1.2}, p.g);
    
    
  });
  p.xTicks.forEach(v => {
    const l = el('line', {x1:p.sx(v), x2:p.sx(v), y1:p.T, y2:p.B, stroke:'#e8e8e8', 'stroke-width':1.7}, p.g);
    
    
  });
  p.yTicks.forEach(v => {
    const l = el('line', {y1:p.sy(v), y2:p.sy(v), x1:p.L, x2:p.R, stroke:'#e8e8e8', 'stroke-width':1.9}, p.g);
    
    
  });
}

function drawAxes(p, g){
  const box = el('rect', {x:p.L, y:p.T, width:p.R-p.L, height:p.B-p.T, fill:'none', stroke:'#2b2522', 'stroke-width':1.5}, g);
  
  
  p.xTicks.forEach((v, i) => {
    const m = el('line', {x1:p.sx(v), x2:p.sx(v), y1:p.B, y2:p.B+4, stroke:'#333', 'stroke-width':1.2}, g);
    
    
    const t = el('text', {x:p.sx(v), y:p.B+20.5, 'text-anchor':'middle', 'font-size':16, fill:'#222'}, g);
    t.textContent = p.xLabels[i];
    
    
  });
  p.yTicks.forEach((v, i) => {
    const m = el('line', {x1:p.L-4, x2:p.L, y1:p.sy(v), y2:p.sy(v), stroke:'#333', 'stroke-width':1.2}, g);
    
    
    const t = el('text', {x:p.L-9, y:p.sy(v)+5.6, 'text-anchor':'end', 'font-size':16, fill:'#222'}, g);
    t.textContent = p.yLabels[i];
    
    
  });
}

function drawThresholds(p, g){
  fcThresholds.forEach(v => {
    const l = el('line', {x1:p.sx(v), x2:p.sx(v), y1:p.T, y2:p.B, stroke:'#000', 'stroke-width':v < 0 ? p.vw[0] : p.vw[1], 'stroke-dasharray':'14 8 3 7'}, g);
    
    
  });
  const h = el('line', {x1:p.L, x2:p.R, y1:p.sy(pThreshold), y2:p.sy(pThreshold), stroke:'#000', 'stroke-width':2.4, 'stroke-dasharray':'12 9 3 9'}, g);
  
  
}

function drawLegend(p){
  const g = el('g', {}, p.g);
  
  
  const t = el('text', {class:'lgt', x:p.lg.tx, y:p.lg.ty}, g);
  t.textContent = 'RegTypes';
  
  
  const fills = [COLORS.down, COLORS.none, COLORS.up];
  legendLabels.forEach((lab, i) => {
    const c = el('circle', {cx:p.lg.cx, cy:p.lg.ys[i], r:MARK_R, fill:fills[i], stroke:'#111', 'stroke-width':MARK_SW}, g);
    
    
    const s = el('text', {class:'lgl', x:p.lg.lx, y:p.lg.ys[i]+5.3}, g);
    s.textContent = lab;
    
    
  });
}

function drawVolcano(p, none, dense, down, up){
  drawFrame(p);
  const layer = el('g', {}, p.g);
  
  
  drawPoints(layer, p, dense, COLORS.none, 'point-none', i => i % 2 === 0);
  drawPoints(layer, p, none, COLORS.none, 'point-none', i => i % 2 === 0);
  drawThresholds(p, layer);
  drawPoints(layer, p, dense, COLORS.none, 'point-none', i => i % 2 === 1);
  drawPoints(layer, p, none, COLORS.none, 'point-none', i => i % 2 === 1);
  drawPoints(layer, p, down, COLORS.down, 'point-down');
  drawPoints(layer, p, up, COLORS.up, 'point-up');
  drawAxes(p, p.g);
  drawLegend(p);
}

function drawBand(p, g, xs, upper, lower, opacity, name){
  const pts = [];
  xs.forEach((x, i) => pts.push(p.sx(x).toFixed(1) + ',' + p.sy(upper[i]).toFixed(1)));
  for (let i = xs.length - 1; i >= 0; i--) pts.push(p.sx(xs[i]).toFixed(1) + ',' + p.sy(lower[i]).toFixed(1));
  const b = el('polygon', {points:pts.join(' '), fill:'#0a0606', 'fill-opacity':opacity, stroke:'#0a0606', 'stroke-opacity':opacity, 'stroke-width':3, 'stroke-linejoin':'round'}, g);
  
  
}

function drawScatter(p, none, down, up, bands){
  drawFrame(p);
  const layer = el('g', {}, p.g);
  
  
  drawPoints(layer, p, down, COLORS.down, 'point-down');
  drawPoints(layer, p, up, COLORS.up, 'point-up');
  if (bands){
    drawBand(p, layer, bands.xs, bands.hazeUpper, bands.hazeLower, 0.55, 'overlap-haze-band');
    drawBand(p, layer, bands.xs, bands.upper, bands.lower, 1, 'dense-overlap-band');
  }
  drawPoints(layer, p, none, COLORS.none, 'point-none');
  drawAxes(p, p.g);
  drawLegend(p);
}

function panel(name, cfg){
  const g = el('g', {}, root);
  
  
  cfg.g = g;
  cfg.sx = linear(cfg.x0, cfg.xu);
  cfg.sy = linear(cfg.y0, -cfg.yu);
  return cfg;
}

const volcanoAxes = {xTicks:volcanoXTicks, xLabels:volcanoXTickLabels, xMinor:volcanoXMinor};
const logAxes = {xTicks:logTicks, xLabels:logTickLabels, xMinor:logMinor, yTicks:logTicks, yLabels:logTickLabels, yMinor:logMinor};

const pa = panel('panel-degs-a', Object.assign({L:49.4,R:492.4,T:40,B:444.3,x0:231.8,xu:21.67,y0:426.7,yu:83.25,vw:[2.6,2.8],yTicks:abYTicks,yLabels:abYTickLabels,yMinor:abYMinor,lg:{tx:522.4,ty:199,cx:536.7,lx:562,ys:[226.7,257,286.7]}}, volcanoAxes));
drawVolcano(pa, aNone, aNoneDense, aDown, aUp);
const pb = panel('panel-degs-b', Object.assign({L:678.4,R:1121.6,T:40,B:444.3,x0:881.2,xu:22,y0:426.7,yu:81.75,vw:[3.2,2.8],yTicks:abYTicks,yLabels:abYTickLabels,yMinor:abYMinor,lg:{tx:1151.8,ty:199,cx:1165.7,lx:1190.6,ys:[226.7,257,286.7]}}, volcanoAxes));
drawVolcano(pb, bNone, bNoneDense, bDown, bUp);
const pc = panel('panel-degs-c', Object.assign({L:1330.2,R:1755.2,T:40,B:444.3,x0:1515.3,xu:42,y0:259.3,yu:38.46,lg:{tx:1785.6,ty:199,cx:1800,lx:1824.6,ys:[226.7,257,286.7]}}, logAxes));
drawScatter(pc, cNone, cDown, cUp, {xs:cBandX, upper:cBandUpper, lower:cBandLower, hazeUpper:cHazeUpper, hazeLower:cHazeLower});
const pd = panel('panel-degs-d', Object.assign({L:49.4,R:492.4,T:542,B:946,x0:239.6,xu:21.71,y0:928.3,yu:105.3,vw:[2,2.4],yTicks:dYTicks,yLabels:dYTickLabels,yMinor:dYMinor,lg:{tx:522.4,ty:700,cx:536.7,lx:562,ys:[729,758.3,788.3]}}, volcanoAxes));
drawVolcano(pd, dNone, dNoneDense, dDown, dUp);
const pe = panel('panel-degs-e', Object.assign({L:696.3,R:1121.6,T:542,B:946,x0:894.7,xu:40.9,y0:760,yu:38.47,lg:{tx:1151.8,ty:700,cx:1165.7,lx:1190.6,ys:[729,758.3,788.3]}}, logAxes));
drawScatter(pe, eNone, eDown, eUp, null);
</script>
</body>
</html>
